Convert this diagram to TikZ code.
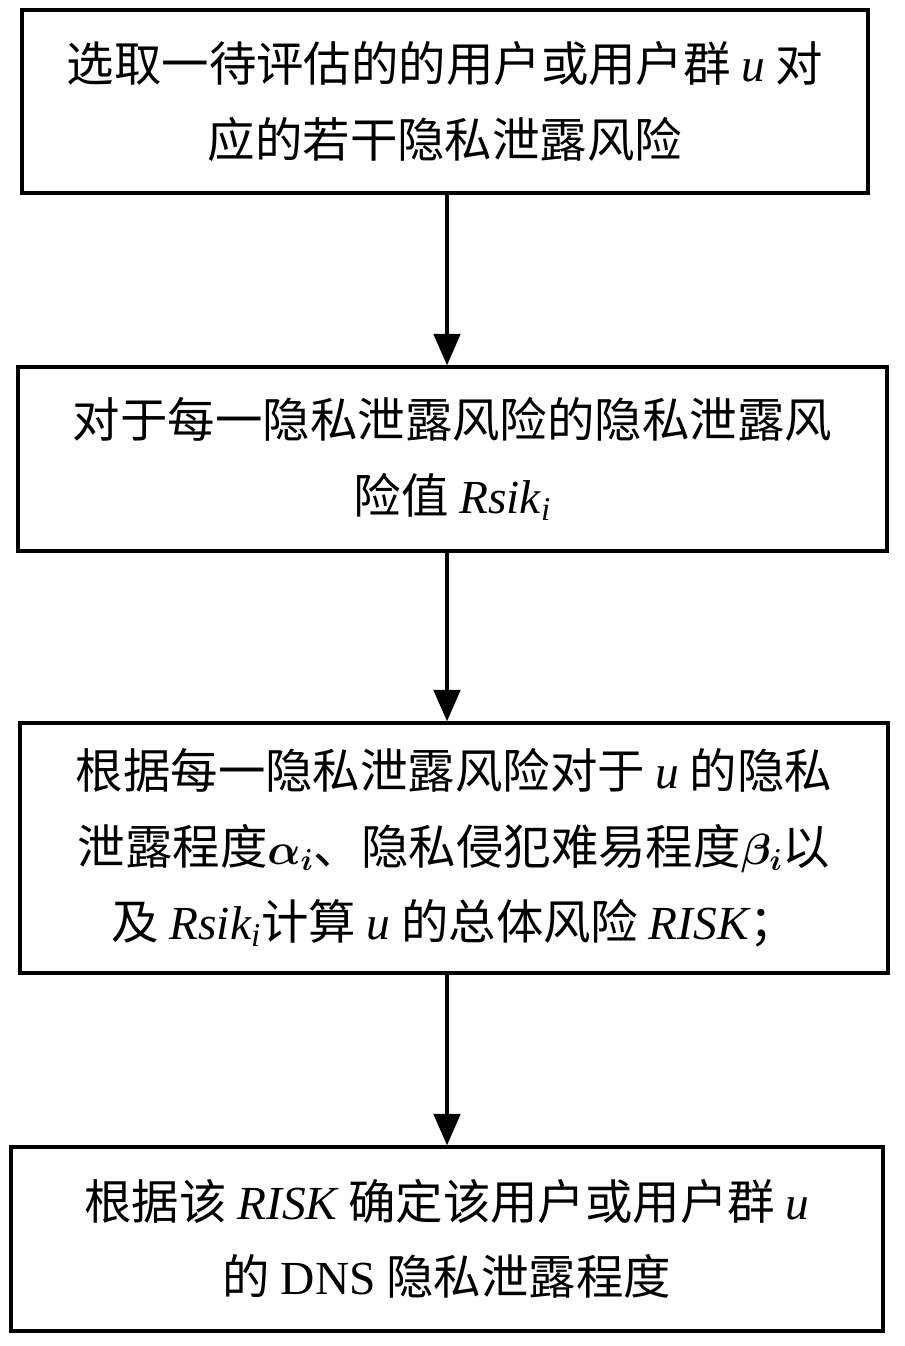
\documentclass[tikz,border=0pt]{standalone}
\usepackage{amsmath}
\usepackage{amssymb}
\usepackage{fontspec}
\setmainfont{Liberation Serif}
\newfontfamily\cjk{Noto Sans CJK SC}
\usetikzlibrary{arrows.meta,positioning,calc}
\newcommand{\lt}[1]{{\rmfamily\itshape #1}}
\newcommand{\rsik}{\lt{Rsik}\textsubscript{\lt{i}}}
\tikzset{
	stepbox/.style={draw,line width=1.8pt,align=center,inner sep=0pt,
		font=\cjk\fontsize{27}{43}\selectfont},
	flow/.style={line width=2.4pt,-{Triangle[length=18pt,width=15pt]}}
}
\begin{document}
\begin{tikzpicture}[x=0.02cm,y=-0.02cm]
	\useasboundingbox (0,0) rectangle (905,1346);
	\node[stepbox,minimum width=846*0.02cm,minimum height=183*0.02cm] (s1) at (445,101.5)
		{选取一待评估的的用户或用户群 \lt{u} 对\\应的若干隐私泄露风险};
	\node[stepbox,minimum width=869*0.02cm,minimum height=184*0.02cm] (s2) at (452.5,459)
		{对于每一隐私泄露风险的隐私泄露风\\险值 \rsik};
	\node[stepbox,minimum width=868*0.02cm,minimum height=250*0.02cm] (s3) at (454,848)
		{根据每一隐私泄露风险对于 \lt{u} 的隐私\\泄露程度$\boldsymbol{\alpha_i}$、隐私侵犯难易程度$\boldsymbol{\beta_i}$以\\及 \rsik 计算 \lt{u} 的总体风险 \lt{RISK}；};
	\node[stepbox,minimum width=872*0.02cm,minimum height=184*0.02cm] (s4) at (447,1239)
		{根据该 \lt{RISK} 确定该用户或用户群 \lt{u}\\的 {\rmfamily DNS} 隐私泄露程度};
	% arrows between steps
	\coordinate (ax) at (447,0);
	\draw[flow] (s1.south -| ax) -- (s2.north -| ax);
	\draw[flow] (s2.south -| ax) -- (s3.north -| ax);
	\draw[flow] (s3.south -| ax) -- (s4.north -| ax);
\end{tikzpicture}
\end{document}
